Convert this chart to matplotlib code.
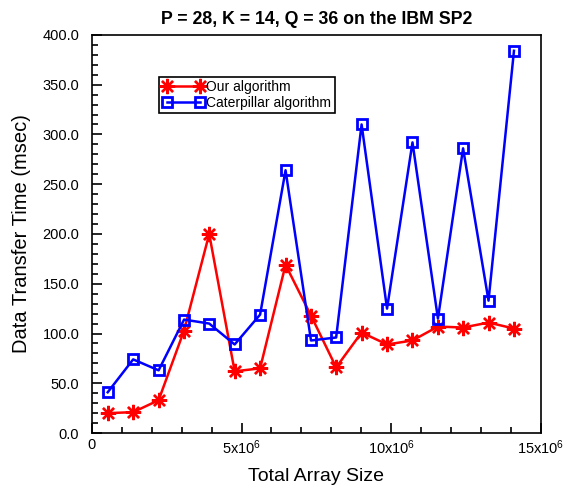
import numpy as np
import matplotlib
matplotlib.use('Agg')
import matplotlib.pyplot as plt
from matplotlib.ticker import MultipleLocator, FuncFormatter

plt.rcParams['font.family'] = ['Liberation Sans', 'DejaVu Sans']
plt.rcParams['mathtext.fontset'] = 'custom'
plt.rcParams['mathtext.rm'] = 'Liberation Sans'
plt.rcParams['mathtext.it'] = 'Liberation Sans'

# data
size = [0.53e6, 1.38e6, 2.23e6, 3.08e6, 3.92e6, 4.77e6, 5.62e6, 6.47e6, 7.32e6,
        8.16e6, 9.01e6, 9.86e6, 10.71e6, 11.56e6, 12.40e6, 13.25e6, 14.10e6]
ours = [20, 21, 33, 103, 200, 62, 65, 169, 118, 66, 101, 89, 93, 107, 106, 111, 105]
caterpillar = [41, 74, 63, 114, 110, 89, 119, 264, 93, 96, 310, 125, 292, 115, 286, 133, 384]

fig = plt.figure(figsize=(5.67, 4.91), dpi=100)
ax = fig.add_axes([0.162, 0.118, 0.792, 0.811])

ax.plot(size, ours, color='red', lw=1.8, marker=(8, 2, 0), ms=11, mew=1.7,
        label='Our algorithm')
ax.plot(size, caterpillar, color='blue', lw=1.8, marker='s', ms=6.5, mew=2.0,
        mfc='none', label='Caterpillar algorithm')

ax.set_xlim(0, 15e6)
ax.set_ylim(0, 400)
ax.xaxis.set_major_locator(MultipleLocator(5e6))
ax.xaxis.set_minor_locator(MultipleLocator(1e6))
ax.yaxis.set_major_locator(MultipleLocator(50))
ax.yaxis.set_minor_locator(MultipleLocator(10))

def xfmt(v, pos):
    if v == 0:
        return '0'
    return '%dx10$^{6}$' % round(v / 1e6)

ax.xaxis.set_major_formatter(FuncFormatter(xfmt))
ax.yaxis.set_major_formatter(FuncFormatter(lambda v, p: '%.1f' % v))
ax.tick_params(which='both', direction='in', labelsize=10.5, width=1.2)
ax.tick_params(which='major', length=7)
ax.tick_params(which='minor', length=4)
ax.tick_params(axis='y', pad=9)
for s in ax.spines.values():
    s.set_linewidth(1.2)

ax.set_title('P = 28, K = 14, Q = 36 on the IBM SP2', fontsize=12.8, fontweight='bold', pad=8)
ax.set_xlabel('Total Array Size', fontsize=14, labelpad=8)
ax.set_ylabel('Data Transfer Time (msec)', fontsize=14.5, labelpad=8)

leg = ax.legend(loc='upper left', bbox_to_anchor=(0.15, 0.895), fontsize=10,
                fancybox=False, framealpha=1, edgecolor='black', borderpad=0.25,
                labelspacing=0.12, handlelength=3.0, handletextpad=0.15,
                borderaxespad=0, numpoints=2)
leg.get_frame().set_linewidth(1.2)

fig.savefig('out.png', dpi=100)
